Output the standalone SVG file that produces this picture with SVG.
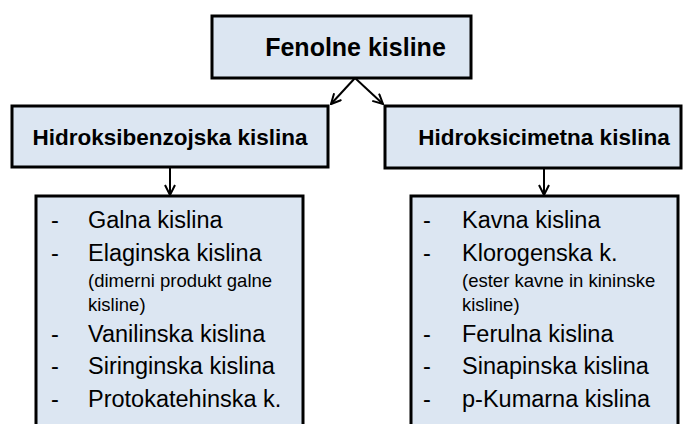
<svg xmlns="http://www.w3.org/2000/svg" width="691" height="424" viewBox="0 0 691 424">
<defs>
<marker id="arr" viewBox="0 0 12 12" refX="11" refY="6" markerWidth="12" markerHeight="12" markerUnits="userSpaceOnUse" orient="auto">
<polyline points="1,1 11,6 1,11" fill="none" stroke="#000" stroke-width="2"/>
</marker>
<style>
.box{fill:#DCE6F2;stroke:#000;stroke-width:3}
.h{font-family:"Liberation Sans",Arial,sans-serif;font-weight:bold;fill:#000}
.t{font-family:"Liberation Sans",Arial,sans-serif;font-size:23.5px;fill:#000}
.s{font-family:"Liberation Sans",Arial,sans-serif;font-size:18.5px;fill:#000}
.c{fill:none;stroke:#000;stroke-width:2;marker-end:url(#arr)}
</style>
</defs>
<g id="connectors">
<line class="c" x1="355" y1="78" x2="331" y2="104"/>
<line class="c" x1="355" y1="78" x2="383" y2="104"/>
<line class="c" x1="170" y1="167" x2="170" y2="195"/>
<line class="c" x1="544" y1="168" x2="544" y2="195"/>
</g>
<g id="fenolne">
<rect class="box" x="212" y="16" width="259" height="62"/>
<text class="h" x="355.5" y="56" font-size="25" text-anchor="middle">Fenolne kisline</text>
</g>
<g id="hidroksibenzojska">
<rect class="box" x="12" y="106" width="316" height="61"/>
<text class="h" x="170" y="145" font-size="22.5" text-anchor="middle">Hidroksibenzojska kislina</text>
</g>
<g id="hidroksicimetna">
<rect class="box" x="385" y="106" width="296" height="62"/>
<text class="h" x="544" y="145" font-size="22.5" text-anchor="middle">Hidroksicimetna kislina</text>
</g>
<g id="list-left">
<rect class="box" x="36" y="196" width="267" height="240"/>
<text class="t" x="51" y="228">-</text><text class="t" x="88" y="228">Galna kislina</text>
<text class="t" x="51" y="261">-</text><text class="t" x="88" y="261">Elaginska kislina</text>
<text class="s" x="88" y="287">(dimerni produkt galne</text>
<text class="s" x="88" y="311">kisline)</text>
<text class="t" x="51" y="342">-</text><text class="t" x="88" y="342">Vanilinska kislina</text>
<text class="t" x="51" y="374">-</text><text class="t" x="88" y="374">Siringinska kislina</text>
<text class="t" x="51" y="407">-</text><text class="t" x="88" y="407">Protokatehinska  k.</text>
</g>
<g id="list-right">
<rect class="box" x="411" y="196" width="267" height="240"/>
<text class="t" x="423" y="228">-</text><text class="t" x="462" y="228">Kavna kislina</text>
<text class="t" x="423" y="261">-</text><text class="t" x="462" y="261">Klorogenska  k.</text>
<text class="s" x="462" y="287">(ester kavne in kininske</text>
<text class="s" x="462" y="311">kisline)</text>
<text class="t" x="423" y="342">-</text><text class="t" x="462" y="342">Ferulna kislina</text>
<text class="t" x="423" y="374">-</text><text class="t" x="462" y="374">Sinapinska kislina</text>
<text class="t" x="423" y="407">-</text><text class="t" x="462" y="407">p-Kumarna kislina</text>
</g>
</svg>
